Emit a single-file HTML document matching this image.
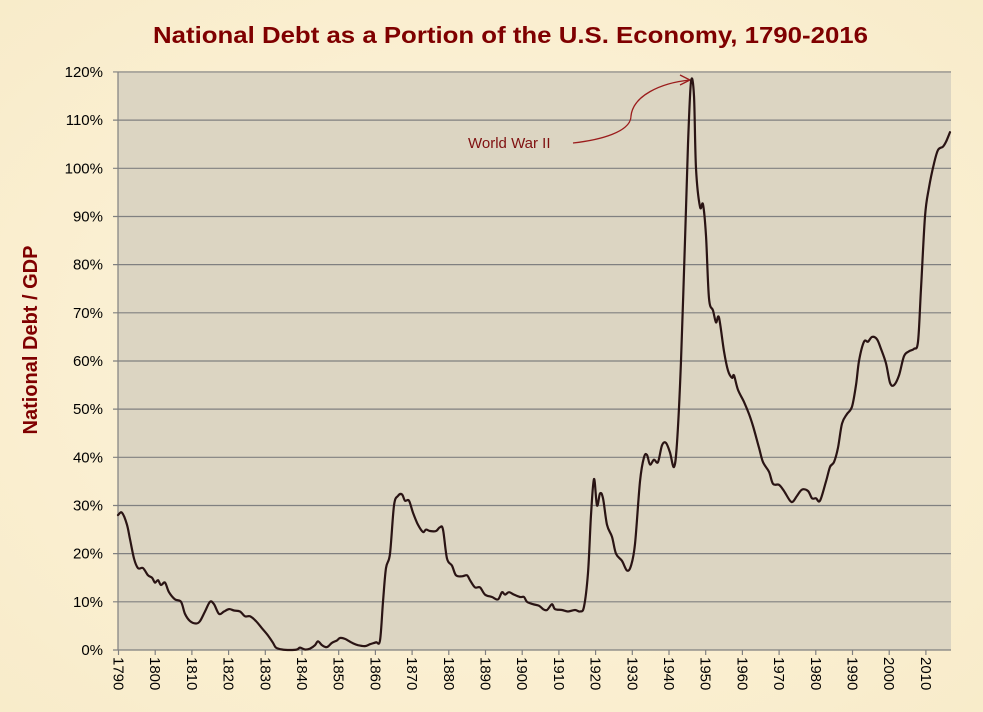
<!DOCTYPE html>
<html><head><meta charset="utf-8"><style>
html,body{margin:0;padding:0;}
body{width:983px;height:712px;overflow:hidden;background:#fbf0d6;}
svg{display:block;font-family:"Liberation Sans",Arial,sans-serif;}
</style></head><body>
<svg id="s" width="983" height="712" viewBox="0 0 983 712" xmlns="http://www.w3.org/2000/svg">
<defs>
<radialGradient id="bg" cx="50%" cy="50%" r="75%">
<stop offset="0" stop-color="#fdf4dc"/><stop offset="1" stop-color="#f8ebc9"/>
</radialGradient>
</defs>
<rect width="983" height="712" fill="url(#bg)"/>
<text x="153" y="43" font-size="23" font-weight="bold" fill="#7f0000" textLength="715" lengthAdjust="spacingAndGlyphs">National Debt as a Portion of the U.S. Economy, 1790-2016</text>
<text transform="translate(37,340) rotate(-90)" text-anchor="middle" font-size="20" font-weight="bold" fill="#7f0000">National Debt / GDP</text>
<rect x="118" y="72" width="833" height="578" fill="#dcd5c2"/>
<g id="grid" stroke="#808080" stroke-width="1.2"></g>
<g id="ylab" font-size="15" fill="#000" text-anchor="end"></g>
<g id="xlab" font-size="15" fill="#000"></g>
<path d="M573,143 C600,140 631,132 631,116 C633,96 660,83 690,80" fill="none" stroke="#9b1c1c" stroke-width="1.3"/>
<path d="M680,75 L690,80 L680,85" fill="none" stroke="#9b1c1c" stroke-width="1.3"/>
<text x="468" y="148" font-size="15" fill="#7f1010">World War II</text>
<path id="line" fill="none" stroke="#2a1414" stroke-width="2.2" stroke-linejoin="round" stroke-linecap="round"/>
</svg>
<script>
var ns="http://www.w3.org/2000/svg";
function el(t,a,p,txt){var e=document.createElementNS(ns,t);for(var k in a)e.setAttribute(k,a[k]);if(txt)e.textContent=txt;document.getElementById(p).appendChild(e);return e;}
var Y=function(p){return 650-p*4.817;};
for(var i=0;i<=12;i++){var y=Y(i*10);
el('line',{x1:113,x2:951,y1:y,y2:y},'grid');
el('text',{x:103,y:y+5},'ylab',(i*10)+'%');}
el('line',{x1:118,x2:118,y1:72,y2:650},'grid');
for(var yr=1790;yr<=2010;yr+=10){var x=118.5+(yr-1790)*3.67;
el('line',{x1:x,x2:x,y1:650,y2:655},'grid');
el('text',{transform:'translate('+(x-5)+',657) rotate(90)'},'xlab',String(yr));}
var d=[118,28,122,28.5,127,26,130,23,134,19,138,17,143,17,148,15.5,152,15,155,14,158,14.5,161,13.5,165,14,169,12,175,10.5,181,10,185,7.5,190,6,196,5.5,200,6,205,8,210,10,214,9.5,219,7.5,224,8,229,8.5,234,8.2,240,8,245,7,250,7,256,6,262,4.5,268,3,273,1.5,276,0.5,282,0.1,290,0,297,0.1,300,0.5,305,0.1,310,0.3,315,1,318,1.8,322,1,327,0.6,332,1.5,337,2,340,2.5,345,2.3,352,1.5,358,1,365,0.8,370,1.2,376,1.6,380,2,383,10,386,17,390,20,394,30,398,32,402,32.3,405,31,409,31,413,28.5,418,26,423,24.5,426,25,430,24.7,436,24.7,440,25.5,443,25,447,19,452,17.5,456,15.5,462,15.3,467,15.5,470,14.5,475,13,480,13,485,11.5,492,11,498,10.5,502,12,505,11.5,509,12,514,11.5,520,11,524,11,527,10,533,9.5,539,9.2,543,8.5,547,8.3,552,9.5,555,8.5,562,8.3,568,8,575,8.3,580,8,584,9,588,16,591,28,594,35.5,597,30,600,32.5,603,31.5,607,26,612,23.5,616,20,622,18.5,627,16.5,631,17.5,635,22,640,35,644,40,647,40.5,650,38.5,654,39.5,658,39,662,42.5,666,43,670,41,674,38,677,43,681,60,685,85,688,105,691,118,694,115,696,100,700,92,703,92.5,706,86,709,73,713,70.5,716,68,719,69,724,62,728,58,732,56.5,734,57,738,54,744,51.5,749,49,753,46.5,759,42,763,39,769,37,773,34.5,779,34.3,784,33,790,31,793,30.8,797,32,802,33.3,808,33,812,31.5,816,31.5,820,31,826,35,830,38,834,39,838,42,842,47,847,49,852,50.5,856,55,859,60,864,64,868,64,872,65,877,64.5,881,62.5,886,59.5,890,55.5,894,55,899,57,904,61,909,62,914,62.5,918,64,921,75,925,90,929,96,934,101,938,103.8,943,104.5,946,105.5,950,107.5];
var P=[];for(var j=0;j<d.length;j+=2)P.push([d[j],Y(d[j+1])]);
var s='M'+P[0][0]+','+P[0][1].toFixed(1);
for(var k=0;k<P.length-1;k++){var p0=P[k?k-1:0],p1=P[k],p2=P[k+1],p3=P[k+2<P.length?k+2:k+1];
var t=6;
s+='C'+(p1[0]+(p2[0]-p0[0])/t).toFixed(1)+','+(p1[1]+(p2[1]-p0[1])/t).toFixed(1)+' '+(p2[0]-(p3[0]-p1[0])/t).toFixed(1)+','+(p2[1]-(p3[1]-p1[1])/t).toFixed(1)+' '+p2[0]+','+p2[1].toFixed(1);}
document.getElementById('line').setAttribute('d',s);
</script>
</body></html>
